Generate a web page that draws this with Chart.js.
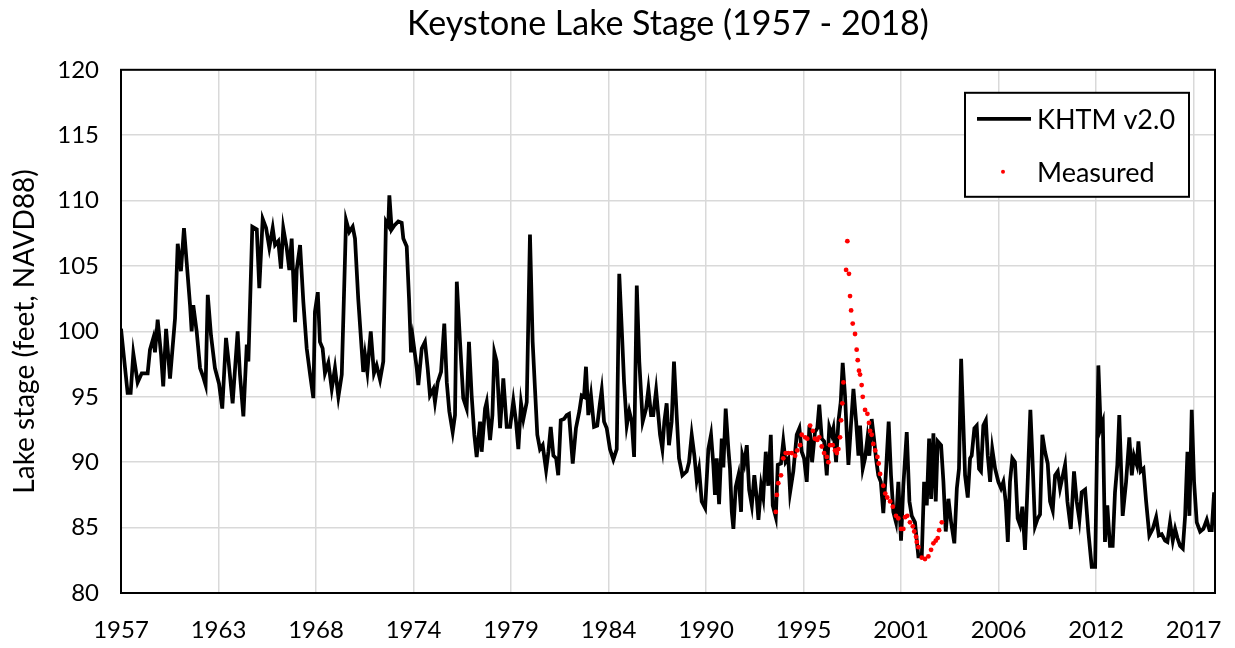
<!DOCTYPE html>
<html>
<head>
<meta charset="utf-8">
<script src="https://cdn.jsdelivr.net/npm/chart.js@4.4.0/dist/chart.umd.min.js"></script>
<style>
  html, body { margin: 0; padding: 0; background: #fff; }
  #wrap { width: 1235px; height: 648px; position: relative; }
</style>
</head>
<body>
<div id="wrap"><canvas id="stageChart"></canvas></div>
<script>
// Keystone Lake stage (decimal years / feet NAVD88)
const modelYears = [
  1957.70, 1958.07, 1958.24, 1958.39, 1958.63, 1958.86, 1959.19, 1959.32, 1959.51, 1959.60,
  1959.75, 1959.94, 1960.06, 1960.22, 1960.44, 1960.72, 1960.87, 1961.05, 1961.22, 1961.37,
  1961.56, 1961.65, 1961.74, 1961.93, 1962.12, 1962.30, 1962.43, 1962.55, 1962.73, 1962.95,
  1963.18, 1963.36, 1963.57, 1963.70, 1963.94, 1964.22, 1964.35, 1964.54, 1964.73, 1964.82,
  1965.04, 1965.29, 1965.43, 1965.62, 1965.81, 1965.99, 1966.18, 1966.31, 1966.49, 1966.64,
  1966.77, 1966.96, 1967.11, 1967.24, 1967.43, 1967.52, 1967.71, 1967.89, 1968.08, 1968.27,
  1968.45, 1968.54, 1968.70, 1968.82, 1968.97, 1969.10, 1969.29, 1969.48, 1969.66, 1969.85,
  1970.04, 1970.28, 1970.46, 1970.65, 1970.78, 1970.96, 1971.15, 1971.24, 1971.34, 1971.47,
  1971.66, 1971.84, 1971.99, 1972.18, 1972.36, 1972.51, 1972.64, 1972.70, 1972.83, 1972.98,
  1973.20, 1973.39, 1973.48, 1973.67, 1973.80, 1973.91, 1974.01, 1974.23, 1974.32, 1974.51,
  1974.69, 1974.84, 1974.97, 1975.16, 1975.25, 1975.40, 1975.59, 1975.77, 1975.91, 1976.05,
  1976.24, 1976.37, 1976.47, 1976.65, 1976.83, 1977.02, 1977.15, 1977.30, 1977.45, 1977.58,
  1977.77, 1977.86, 1978.05, 1978.14, 1978.33, 1978.46, 1978.57, 1978.70, 1978.89, 1979.07,
  1979.26, 1979.45, 1979.63, 1979.78, 1979.91, 1980.06, 1980.19, 1980.38, 1980.56, 1980.71,
  1980.84, 1980.97, 1981.12, 1981.27, 1981.46, 1981.59, 1981.72, 1981.87, 1982.02, 1982.14,
  1982.28, 1982.46, 1982.61, 1982.74, 1982.95, 1983.13, 1983.32, 1983.45, 1983.58, 1983.69,
  1983.82, 1983.97, 1984.14, 1984.32, 1984.48, 1984.57, 1984.70, 1984.85, 1985.03, 1985.22,
  1985.41, 1985.55, 1985.69, 1985.82, 1985.97, 1986.11, 1986.25, 1986.38, 1986.53, 1986.67,
  1986.86, 1987.05, 1987.18, 1987.33, 1987.45, 1987.61, 1987.83, 1987.96, 1988.07, 1988.20,
  1988.33, 1988.48, 1988.61, 1988.76, 1988.89, 1989.08, 1989.32, 1989.45, 1989.60, 1989.75,
  1989.88, 1990.01, 1990.16, 1990.35, 1990.53, 1990.68, 1990.81, 1990.90, 1991.00, 1991.13,
  1991.28, 1991.37, 1991.50, 1991.65, 1991.74, 1991.84, 1991.93, 1992.06, 1992.21, 1992.36,
  1992.43, 1992.54, 1992.68, 1992.81, 1992.96, 1993.10, 1993.24, 1993.33, 1993.48, 1993.60,
  1993.74, 1993.88, 1994.02, 1994.13, 1994.30, 1994.41, 1994.59, 1994.72, 1994.85, 1995.00,
  1995.10, 1995.28, 1995.47, 1995.62, 1995.75, 1995.88, 1996.03, 1996.18, 1996.33, 1996.49,
  1996.62, 1996.73, 1996.87, 1997.00, 1997.15, 1997.29, 1997.43, 1997.52, 1997.67, 1997.80,
  1997.93, 1998.04, 1998.17, 1998.27, 1998.36, 1998.49, 1998.64, 1998.79, 1998.92, 1999.01,
  1999.16, 1999.29, 1999.42, 1999.53, 1999.66, 1999.79, 1999.90, 2000.03, 2000.17, 2000.31,
  2000.46, 2000.61, 2000.74, 2000.87, 2001.02, 2001.15, 2001.30, 2001.43, 2001.62, 2001.77,
  2001.90, 2002.08, 2002.27, 2002.46, 2002.59, 2002.74, 2002.87, 2002.98, 2003.11, 2003.24,
  2003.35, 2003.54, 2003.67, 2003.80, 2003.95, 2004.10, 2004.28, 2004.42, 2004.54, 2004.66,
  2004.78, 2004.88, 2005.03, 2005.16, 2005.25, 2005.40, 2005.53, 2005.66, 2005.77, 2005.90,
  2006.04, 2006.15, 2006.28, 2006.40, 2006.56, 2006.74, 2006.89, 2007.02, 2007.15, 2007.27,
  2007.39, 2007.52, 2007.67, 2007.82, 2007.95, 2008.08, 2008.23, 2008.38, 2008.53, 2008.64,
  2008.79, 2008.94, 2009.07, 2009.20, 2009.35, 2009.50, 2009.63, 2009.78, 2009.91, 2010.06,
  2010.19, 2010.47, 2010.60, 2010.79, 2010.97, 2011.12, 2011.27, 2011.40, 2011.59, 2011.77,
  2011.96, 2012.15, 2012.33, 2012.46, 2012.58, 2012.70, 2012.83, 2012.98, 2013.13, 2013.26,
  2013.39, 2013.50, 2013.69, 2013.88, 2014.06, 2014.20, 2014.32, 2014.48, 2014.57, 2014.70,
  2014.85, 2015.00, 2015.18, 2015.37, 2015.56, 2015.71, 2015.87, 2016.06, 2016.19, 2016.34,
  2016.49, 2016.62, 2016.75, 2016.90, 2017.05, 2017.18, 2017.31, 2017.42, 2017.55, 2017.68,
  2017.83, 2018.02, 2018.20, 2018.39, 2018.54, 2018.67, 2018.80
];
const modelStage = [
  100.2, 95.3, 95.3, 98.3, 96.1, 96.8, 96.8, 98.6, 99.5, 98.4,
  100.9, 98.2, 95.8, 100.2, 96.4, 101.0, 106.7, 104.6, 107.9, 105.3,
  102.0, 100.0, 102.0, 100.0, 97.2, 96.5, 95.9, 102.8, 99.7, 97.2,
  96.0, 94.1, 99.5, 97.9, 94.5, 100.0, 96.7, 93.5, 99.0, 97.7,
  108.0, 107.8, 103.3, 108.6, 107.9, 106.4, 107.9, 106.6, 106.9, 104.8,
  107.9, 106.4, 104.7, 107.1, 100.7, 104.7, 106.6, 102.3, 98.7, 96.7,
  94.9, 101.5, 103.0, 99.2, 98.7, 96.8, 97.6, 95.6, 97.2, 95.0,
  96.7, 108.5, 107.6, 108.0, 107.1, 102.5, 98.7, 96.9, 98.2, 96.9,
  100.0, 96.8, 97.4, 96.3, 97.7, 108.4, 108.1, 110.4, 107.8, 108.1,
  108.4, 108.3, 107.1, 106.5, 102.5, 98.4, 99.5, 97.2, 95.9, 98.7,
  99.2, 97.2, 95.1, 95.6, 94.6, 96.1, 96.9, 100.6, 96.1, 93.9,
  92.3, 93.6, 103.8, 99.2, 94.9, 94.1, 99.2, 95.1, 92.1, 90.4,
  93.1, 90.8, 94.1, 94.6, 91.7, 93.6, 98.4, 97.7, 92.6, 96.4,
  92.7, 92.7, 94.7, 93.1, 91.0, 94.5, 93.3, 94.6, 107.4, 99.2,
  95.6, 92.1, 91.0, 91.3, 89.4, 90.8, 92.7, 90.5, 90.3, 89.0,
  93.2, 93.3, 93.6, 93.7, 89.9, 92.6, 93.9, 95.1, 95.0, 97.3,
  93.6, 95.1, 92.7, 92.8, 94.6, 95.5, 93.1, 92.6, 91.0, 90.2,
  91.0, 104.4, 100.2, 96.1, 92.8, 93.9, 93.1, 90.4, 103.5, 97.7,
  93.1, 94.1, 95.6, 93.6, 93.6, 95.5, 92.1, 91.0, 93.1, 94.5,
  91.3, 93.1, 97.7, 93.6, 90.3, 89.0, 89.3, 90.0, 92.1, 90.5,
  88.6, 89.5, 87.0, 86.5, 91.0, 92.1, 89.8, 87.5, 90.3, 86.8,
  91.8, 89.6, 94.1, 91.0, 89.5, 86.2, 84.9, 88.1, 89.0, 86.2,
  90.5, 89.9, 91.3, 87.9, 86.7, 89.0, 87.2, 85.6, 88.2, 87.3,
  90.8, 88.2, 92.1, 86.7, 85.8, 89.8, 89.9, 91.6, 90.0, 90.3,
  87.7, 89.3, 92.1, 92.6, 90.8, 90.3, 88.5, 92.8, 90.0, 92.3,
  92.6, 94.4, 91.8, 91.6, 89.0, 92.7, 92.1, 92.6, 90.0, 93.1,
  94.6, 97.6, 95.1, 92.1, 89.8, 92.6, 95.6, 93.1, 90.5, 92.8,
  89.5, 90.3, 91.8, 90.5, 93.3, 91.8, 90.3, 89.0, 88.5, 86.1,
  89.3, 93.1, 89.0, 86.2, 85.4, 88.5, 84.0, 88.2, 92.3, 87.0,
  85.9, 85.4, 82.8, 82.8, 88.5, 86.7, 91.8, 87.2, 92.2, 87.0,
  91.6, 91.3, 88.5, 84.7, 87.2, 85.4, 83.8, 88.0, 89.5, 97.9,
  93.1, 89.0, 87.3, 90.3, 90.5, 92.6, 92.8, 89.5, 89.3, 92.8,
  93.2, 90.5, 88.5, 91.0, 89.5, 88.5, 88.0, 88.5, 87.0, 83.9,
  88.5, 90.3, 90.0, 85.7, 85.2, 86.6, 83.3, 88.5, 94.0, 90.5,
  85.1, 85.7, 86.0, 92.1, 90.8, 89.9, 87.0, 86.3, 89.0, 89.3,
  88.0, 89.8, 87.0, 84.9, 89.3, 87.0, 85.6, 87.7, 87.9, 84.7,
  82.0, 82.0, 97.4, 92.6, 93.1, 83.9, 86.7, 83.6, 83.6, 87.7,
  89.8, 93.6, 85.9, 88.5, 91.9, 89.0, 90.5, 89.8, 91.6, 89.3,
  89.5, 87.0, 84.4, 84.9, 85.8, 84.4, 84.5, 84.0, 83.9, 85.4,
  84.0, 84.9, 84.2, 83.6, 83.4, 85.9, 90.8, 85.9, 94.0, 88.5,
  85.4, 84.7, 84.9, 85.6, 84.8, 84.8, 87.7
];

const measuredYears = [
  1994.30, 1994.36, 1994.44, 1994.59, 1994.72, 1994.85, 1995.00, 1995.19, 1995.38, 1995.50,
  1995.66, 1995.75, 1995.94, 1996.06, 1996.22, 1996.37, 1996.49, 1996.62, 1996.73, 1996.87,
  1997.00, 1997.15, 1997.24, 1997.33, 1997.48, 1997.61, 1997.71, 1997.80, 1997.89, 1997.95,
  1998.02, 1998.08, 1998.23, 1998.30, 1998.39, 1998.45, 1998.51, 1998.60, 1998.73, 1998.82,
  1998.88, 1998.95, 1999.01, 1999.10, 1999.16, 1999.29, 1999.42, 1999.51, 1999.57, 1999.66,
  1999.75, 1999.86, 1999.98, 2000.05, 2000.13, 2000.31, 2000.42, 2000.53, 2000.69, 2000.84,
  2001.02, 2001.15, 2001.30, 2001.43, 2001.53, 2001.65, 2001.80, 2001.96, 2002.04, 2002.14,
  2002.18, 2002.27, 2002.46, 2002.64, 2002.83, 2002.98, 2003.11, 2003.24, 2003.35, 2003.43,
  2003.58
];
const measuredStage = [
  86.2, 87.5, 88.4, 89.0, 90.3, 90.7, 90.7, 90.7, 90.5, 90.9,
  91.3, 92.1, 91.9, 91.8, 92.8, 92.4, 91.8, 91.7, 91.9, 91.2,
  90.7, 90.4, 90.0, 91.3, 91.3, 90.9, 90.7, 91.0, 91.9, 93.2,
  94.5, 96.1, 104.7, 106.9, 104.4, 102.7, 101.6, 100.6, 99.8, 98.6,
  97.8, 97.0, 96.7, 95.9, 95.0, 94.0, 93.7, 93.0, 92.4, 92.1,
  91.4, 90.9, 90.4, 89.9, 89.1, 88.2, 87.6, 87.3, 87.0, 86.6,
  85.9, 85.7, 84.9, 84.9, 85.8, 85.9, 85.4, 85.1, 84.7, 84.3,
  83.9, 83.5, 82.7, 82.6, 82.8, 83.3, 83.8, 84.0, 84.2, 84.8,
  85.4
];

// Date axis: one label every ~5.45 years starting from the left edge
const tickLabels = ['1957', '1963', '1968', '1974', '1979', '1984', '1990', '1995', '2001', '2006', '2012', '2017'];
const xMin = 1957.7;
const xMax = 2018.85;
const tickStep = 5.45;

const FONT = 'Lato, "Open Sans", sans-serif';

// Black outline around the plot area
const plotFrame = {
  id: 'plotFrame',
  afterDraw(chart) {
    const { ctx, chartArea } = chart;
    ctx.save();
    ctx.strokeStyle = '#000';
    ctx.lineWidth = 2;
    ctx.strokeRect(chartArea.left, chartArea.top, chartArea.right - chartArea.left, chartArea.bottom - chartArea.top);
    ctx.restore();
  }
};

// Boxed legend in the upper right corner of the plot
const boxLegend = {
  id: 'boxLegend',
  afterDraw(chart) {
    const { ctx, chartArea } = chart;
    const left = chartArea.right - 250;
    const top = chartArea.top + 23;
    const w = 224, h = 104;
    ctx.save();
    ctx.fillStyle = '#fff';
    ctx.fillRect(left, top, w, h);
    ctx.strokeStyle = '#000';
    ctx.lineWidth = 2;
    ctx.strokeRect(left, top, w, h);
    ctx.font = '27px ' + FONT;
    ctx.textBaseline = 'middle';
    chart.data.datasets.forEach((ds, i) => {
      const y = top + 26 + i * 53;
      if (ds.showLine === false) {
        ctx.fillStyle = ds.pointBackgroundColor;
        ctx.beginPath();
        ctx.arc(left + 38, y, 2, 0, Math.PI * 2);
        ctx.fill();
      } else {
        ctx.strokeStyle = ds.borderColor;
        ctx.lineWidth = ds.borderWidth;
        ctx.beginPath();
        ctx.moveTo(left + 12, y);
        ctx.lineTo(left + 66, y);
        ctx.stroke();
      }
      ctx.fillStyle = '#000';
      ctx.fillText(ds.label, left + 72, y + 1);
    });
    ctx.restore();
  }
};

const modelData = modelYears.map((x, i) => ({ x: x, y: modelStage[i] }));
const measuredData = measuredYears.map((x, i) => ({ x: x, y: measuredStage[i] }));

new Chart(document.getElementById('stageChart'), {
  type: 'scatter',
  data: {
    datasets: [
      {
        label: 'KHTM v2.0',
        data: modelData,
        showLine: true,
        borderColor: '#000',
        borderWidth: 3.75,
        pointRadius: 0,
        tension: 0,
        order: 1
      },
      {
        label: 'Measured',
        data: measuredData,
        showLine: false,
        pointRadius: 2.4,
        pointBackgroundColor: '#ff0000',
        pointBorderWidth: 0,
        order: 0
      }
    ]
  },
  options: {
    responsive: true,
    maintainAspectRatio: false,
    animation: false,
    layout: { padding: { left: 0, right: 20, top: 0, bottom: 0 } },
    plugins: {
      legend: { display: false },
      tooltip: { enabled: false },
      title: {
        display: true,
        text: 'Keystone Lake Stage (1957 - 2018)',
        fullSize: false,
        color: '#000',
        font: { family: FONT, size: 34, weight: 'normal' },
        padding: { top: 4, bottom: 25 }
      }
    },
    scales: {
      x: {
        type: 'linear',
        min: xMin,
        max: xMax,
        afterBuildTicks: axis => {
          axis.ticks = tickLabels.map((_, i) => ({ value: xMin + i * tickStep }));
        },
        afterFit: scale => {
          scale.height = 55;
          scale.paddingLeft = 0;
          scale.paddingRight = 0;
        },
        ticks: {
          autoSkip: false,
          maxRotation: 0,
          padding: 23,
          color: '#000',
          font: { family: FONT, size: 24 },
          callback: (value, index) => tickLabels[index]
        },
        grid: { color: '#d9d9d9', lineWidth: 1.5, drawTicks: false },
        border: { display: false }
      },
      y: {
        min: 80,
        max: 120,
        afterFit: scale => { scale.width = 121; },
        ticks: {
          stepSize: 5,
          padding: 22,
          color: '#000',
          font: { family: FONT, size: 24 }
        },
        title: {
          display: true,
          text: 'Lake stage (feet, NAVD88)',
          color: '#000',
          font: { family: FONT, size: 28 },
          padding: { top: 8, bottom: 0 }
        },
        grid: { color: '#d9d9d9', lineWidth: 1.5, drawTicks: false },
        border: { display: false }
      }
    }
  },
  plugins: [plotFrame, boxLegend]
});
</script>
</body>
</html>
